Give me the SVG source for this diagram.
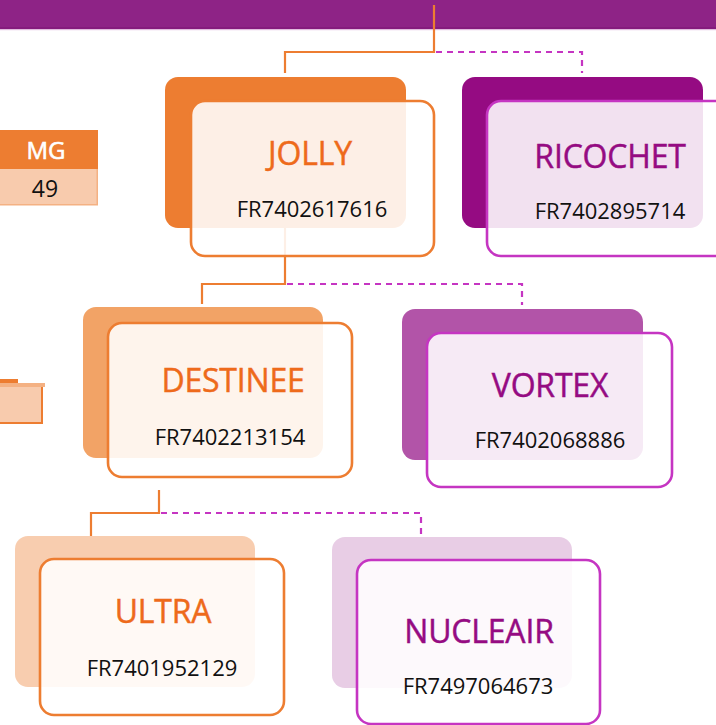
<svg xmlns="http://www.w3.org/2000/svg" width="716" height="725" viewBox="0 0 716 725">
<style>
.bg{fill:#ffffff}
.conn{fill:none;stroke:#ED7D31;stroke-width:2.2}
.dash{fill:none;stroke:#C535C2;stroke-width:2.2;stroke-dasharray:6 5}
.front-o{fill:#ffffff;fill-opacity:0.88;stroke:#ED7D31;stroke-width:2.6}
.front-p{fill:#ffffff;fill-opacity:0.88;stroke:#C535C2;stroke-width:2.6}
.t{font-family:"Open Sans","Noto Sans","Liberation Sans",sans-serif;text-anchor:middle}
.title-o{fill:#EE6A1B;stroke:#EE6A1B;stroke-width:0.45;font-size:32px;letter-spacing:-0.2px}
.title-p{fill:#950B82;stroke:#950B82;stroke-width:0.45;font-size:32px;letter-spacing:-0.2px}
.code{fill:#111111;font-size:22px}
</style>
<rect x="0" y="0" width="716" height="725" class="bg"/>
<!-- top bar -->
<rect x="0" y="0" width="716" height="27" fill="#8E2386"/>
<rect x="0" y="27" width="716" height="2" fill="#851B7D"/>
<rect x="0" y="29" width="716" height="1.2" fill="#E2BCDE"/>
<!-- left partial tables -->
<g id="table-mg">
<rect x="0" y="130" width="98" height="39" fill="#ED7D31"/>
<rect x="0" y="169" width="98" height="36" fill="#F8CBAD"/>
<rect x="96.5" y="169" width="1.5" height="36" fill="#F4B183"/>
<rect x="0" y="204" width="98" height="1.5" fill="#F4B183"/>
<text x="46" y="159" class="t" fill="#ffffff" stroke="#ffffff" stroke-width="0.6" font-size="24">MG</text>
<text x="45" y="197" class="t" fill="#111111" font-size="23">49</text>
</g>
<g id="table-2">
<rect x="0" y="379" width="18" height="4" fill="#ED7D31"/>
<rect x="0" y="383" width="45" height="4" fill="#F4B183"/>
<rect x="0" y="387" width="42" height="37" fill="#F8CBAD"/>
<rect x="41" y="387" width="2" height="37" fill="#ED7D31"/>
<rect x="0" y="422" width="43" height="2" fill="#ED7D31"/>
</g>
<!-- connectors -->
<g id="connectors">
<path class="conn" d="M434 5 V52 H285 V73"/>
<path class="dash" d="M436 52 H582 V73"/>
<path class="conn" d="M285 228 V284 H202 V304"/>
<path class="dash" d="M287 284 H522 V305"/>
<path class="conn" d="M159 490 V513 H91 V540"/>
<path class="dash" d="M161 513 H421 V537"/>
</g>
<!-- nodes -->
<g id="node-jolly">
<rect x="165" y="77" width="241" height="151" rx="13" fill="#ED7D31"/>
<rect x="191" y="101" width="243" height="155" rx="14" class="front-o"/>
<text x="310" y="165" class="t title-o">JOLLY</text>
<text x="312" y="217" class="t code">FR7402617616</text>
</g>
<g id="node-ricochet">
<rect x="462" y="77" width="241" height="151" rx="13" fill="#950B82"/>
<rect x="487" y="101" width="243" height="155" rx="14" class="front-p"/>
<text x="610" y="168" class="t title-p">RICOCHET</text>
<text x="610" y="219" class="t code">FR7402895714</text>
</g>
<g id="node-destinee">
<rect x="83" y="307" width="240" height="151" rx="13" fill="#F2A366"/>
<rect x="108" y="323" width="244" height="154" rx="14" class="front-o"/>
<text x="233" y="392" class="t title-o">DESTINEE</text>
<text x="230" y="445" class="t code" font-size="21">FR7402213154</text>
</g>
<g id="node-vortex">
<rect x="402" y="309" width="241" height="151" rx="13" fill="#B254A8"/>
<rect x="427" y="333" width="245" height="154" rx="14" class="front-p"/>
<text x="550" y="397" class="t title-p">VORTEX</text>
<text x="550" y="448" class="t code">FR7402068886</text>
</g>
<g id="node-ultra">
<rect x="15" y="536" width="240" height="151" rx="13" fill="#F8CDAF"/>
<rect x="40" y="559" width="244" height="156" rx="14" class="front-o"/>
<text x="163" y="623" class="t title-o">ULTRA</text>
<text x="162" y="676" class="t code">FR7401952129</text>
</g>
<g id="node-nucleair">
<rect x="332" y="537" width="240" height="151" rx="13" fill="#E8CDE5"/>
<rect x="357" y="560" width="243" height="164" rx="14" class="front-p"/>
<text x="479" y="643" class="t title-p">NUCLEAIR</text>
<text x="478" y="694" class="t code">FR7497064673</text>
</g>
</svg>
